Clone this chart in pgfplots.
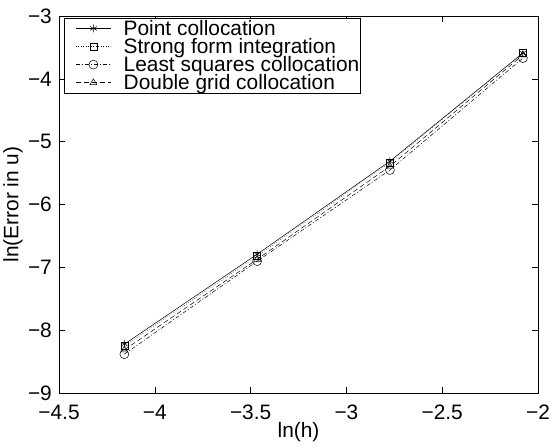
\documentclass[border=0pt]{standalone}
\usepackage{fontspec}
\setmainfont{Liberation Sans}
\usepackage{pgfplots}
\pgfplotsset{compat=1.18}
\begin{document}
\begin{tikzpicture}
\begin{axis}[
  scale only axis, width=480bp, height=378bp,
  xmin=-4.5, xmax=-2, ymin=-9, ymax=-3,
  xtick={-4.5,-4,-3.5,-3,-2.5,-2},
  xticklabels={−4.5,−4,−3.5,−3,−2.5,−2},
  ytick={-9,-8,-7,-6,-5,-4,-3},
  yticklabels={−9,−8,−7,−6,−5,−4,−3},
  tick align=inside, major tick length=6bp,
  tick style={black, line width=0.5pt},
  axis line style={line width=0.8pt},
  ticklabel style={font=\fontsize{21}{21}\selectfont},
  xticklabel style={anchor=center, yshift=-19.5bp},
  yticklabel style={anchor=east, inner xsep=0pt, xshift=-7bp},
  label style={font=\fontsize{21}{21}\selectfont},
  xlabel={ln(h)}, ylabel={ln(Error in u)},
  xlabel style={at={(axis description cs:0.5,-0.103)}, anchor=center},
  ylabel style={at={(axis description cs:-0.096,0.5)}, anchor=center},
  legend style={at={(0.01,0.995)}, anchor=north west, draw=black, line width=0.5pt,
    font=\fontsize{21}{19.5}\selectfont, cells={anchor=west}, row sep=1.5pt,
    inner xsep=1pt, inner ysep=2pt, nodes={inner xsep=0pt, inner ysep=0pt}},
  legend image code/.code={%
    \path[draw=none,fill=none] (-11pt,-1pt) rectangle (48pt,1pt);
    \draw[mark repeat=2,mark phase=2,#1] plot coordinates {(0pt,0pt) (17.5pt,0pt) (35pt,0pt)};},
  every axis plot/.append style={black, line width=0.5pt, mark options={solid}},
]
\addplot[mark=asterisk, mark size=4pt] coordinates {(-4.159,-8.22) (-3.466,-6.79) (-2.773,-5.31) (-2.079,-3.59)};
\addlegendentry{\strut Point collocation}
\addplot[dotted, mark=square, mark size=3.5pt] coordinates {(-4.159,-8.25) (-3.466,-6.82) (-2.773,-5.33) (-2.079,-3.59)};
\addlegendentry{\strut Strong form integration}
\addplot[dash pattern=on 4pt off 2pt on 1pt off 2pt, mark=o, mark size=4.5pt] coordinates {(-4.159,-8.38) (-3.466,-6.90) (-2.773,-5.45) (-2.079,-3.67)};
\addlegendentry{\strut Least squares collocation}
\addplot[dash pattern=on 5pt off 3pt, mark=triangle, mark size=4pt] coordinates {(-4.159,-8.31) (-3.466,-6.87) (-2.773,-5.39) (-2.079,-3.62)};
\addlegendentry{\strut Double grid collocation}
\end{axis}
\path (current axis.south west) ++(-58bp,-46bp) rectangle ++(555bp,440bp);
\end{tikzpicture}
\end{document}
